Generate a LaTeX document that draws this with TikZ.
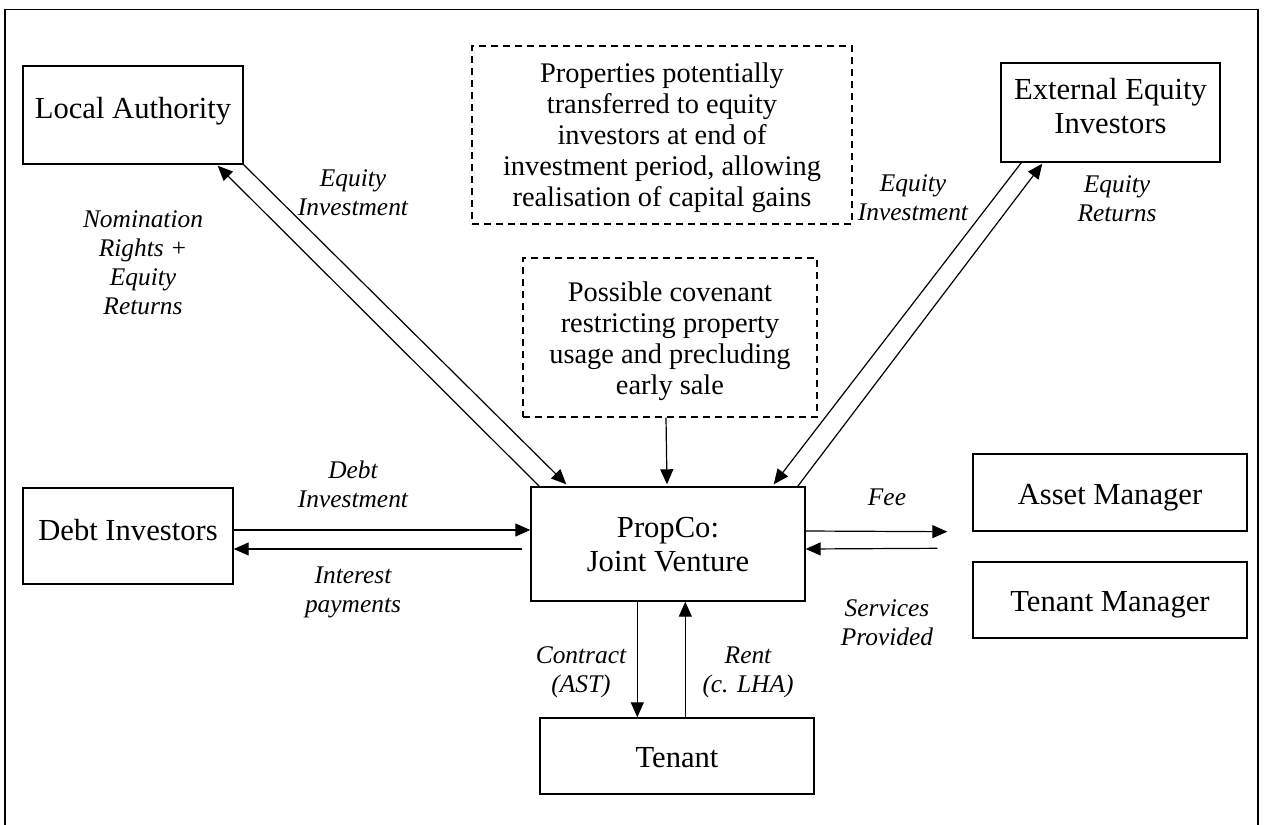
\documentclass[tikz,border=0pt]{standalone}
\usepackage{fontspec}
\setmainfont{Liberation Serif}
\usetikzlibrary{arrows.meta,calc}
\begin{document}
\begin{tikzpicture}[x=0.5pt,y=-0.5pt,
  box/.style={draw, line width=0.7pt, inner sep=0pt, font=\fontsize{15.3}{17}\selectfont, align=center, text height=10.5pt},
  notebox/.style={draw, line width=0.6pt, dash pattern=on 3.5pt off 2.5pt, inner sep=0pt, font=\fontsize{14.2}{15.5}\selectfont, align=center},
  lbl/.style={font=\itshape\fontsize{12.7}{14.5}\selectfont, align=center, inner sep=0pt},
  flow/.style={line width=0.6pt, -{Triangle[length=7.5pt,width=6.5pt]}}]
\useasboundingbox (0,0) rectangle (1265,825);
% outer frame (bottom edge lies outside the picture)
\coordinate (fbl) at (5,826);
\coordinate (ftl) at (5,9.5);
\coordinate (ftr) at (1258,9.5);
\coordinate (fbr) at (1258,826);
\draw[line width=0.9pt] (fbl) -- (ftl) -- (ftr) -- (fbr);

% boxes
\node[box, minimum width=110pt, minimum height=49pt, text depth=7.5pt] (la) at (133,115) {Local Authority};
\node[box, minimum width=109.5pt, minimum height=49.5pt, text height=27.5pt, text depth=7pt] (eei) at (1110.5,112.5) {External Equity\\Investors};
\node[notebox, minimum width=190pt, minimum height=89pt, text height=72pt, text depth=1pt] (d1) at (662,135) {Properties potentially\\transferred to equity\\investors at end of\\investment period, allowing\\realisation of capital gains};
\node[notebox, minimum width=147pt, minimum height=79.5pt, text height=56.5pt, text depth=0pt] (d2) at (670,337.5) {Possible covenant\\restricting property\\usage and precluding\\early sale};
\node[box, minimum width=137pt, minimum height=57pt, text height=27pt, text depth=0pt] (pc) at (668,544) {PropCo:\\Joint Venture};
\node[box, minimum width=105pt, minimum height=48pt, text depth=6.5pt] (di) at (128,536) {Debt Investors};
\node[box, minimum width=137pt, minimum height=38.5pt, text height=11.5pt, text depth=0pt] (am) at (1110,492.5) {Asset Manager};
\node[box, minimum width=137pt, minimum height=38pt, text height=11pt, text depth=0pt] (tm) at (1110,600) {Tenant Manager};
\node[box, minimum width=137pt, minimum height=38pt, text height=11pt, text depth=0pt] (ten) at (677,756) {Tenant};

% connectors
\draw[flow] (la.south east) -- ($(pc.north west)+(36,-2)$);
\draw[flow] ($(pc.north west)+(9,0)$) -- ($(la.south east)+(-26,1)$);
\draw[flow] ($(eei.south west)+(21,0)$) -- ($(pc.north east)+(-32,-2)$);
\draw[flow] ($(pc.north east)+(-8,0)$) -- ($(eei.south west)+(42,1)$);
\draw[flow] ($(d2.south)+(-4,0)$) -- ($(pc.north)+(-1,-2)$);
\draw[flow] ($(di.east)+(0,-6)$) -- ($(pc.west)+(0,-14)$);
\draw[flow] ($(pc.west)+(-8,5)$) -- ($(di.east)+(0,13)$);
\draw[flow] ($(pc.east)+(0,-13)$) -- ($(am.south west)+(-25,0)$);
\draw[flow] ($(tm.north west)+(-35,-13)$) -- ($(pc.east)+(0,5)$);
\draw[flow] ($(pc.south west)+(107,0)$) -- ($(ten.north west)+(98,0)$);
\draw[flow] ($(ten.north west)+(146,0)$) -- ($(pc.south west)+(155,0)$);

% labels
\node[lbl] (l1) at (353,192.5) {Equity\\Investment};
\node[lbl] (l2) at (143,262.5) {Nomination\\Rights +\\Equity\\Returns};
\node[lbl] (l3) at (913,198) {Equity\\Investment};
\node[lbl] (l4) at (1117,198.5) {Equity\\Returns};
\node[lbl] (l5) at (353,484) {Debt\\Investment};
\node[lbl] (l6) at (353,592) {Interest\\payments};
\node[lbl] (l7) at (887,497) {Fee};
\node[lbl] (l8) at (887,623) {Services\\Provided};
\node[lbl] (l9) at (581,672) {Contract\\(AST)};
\node[lbl] (l10) at (748,672) {Rent\\(c. LHA)};
\end{tikzpicture}
\end{document}
